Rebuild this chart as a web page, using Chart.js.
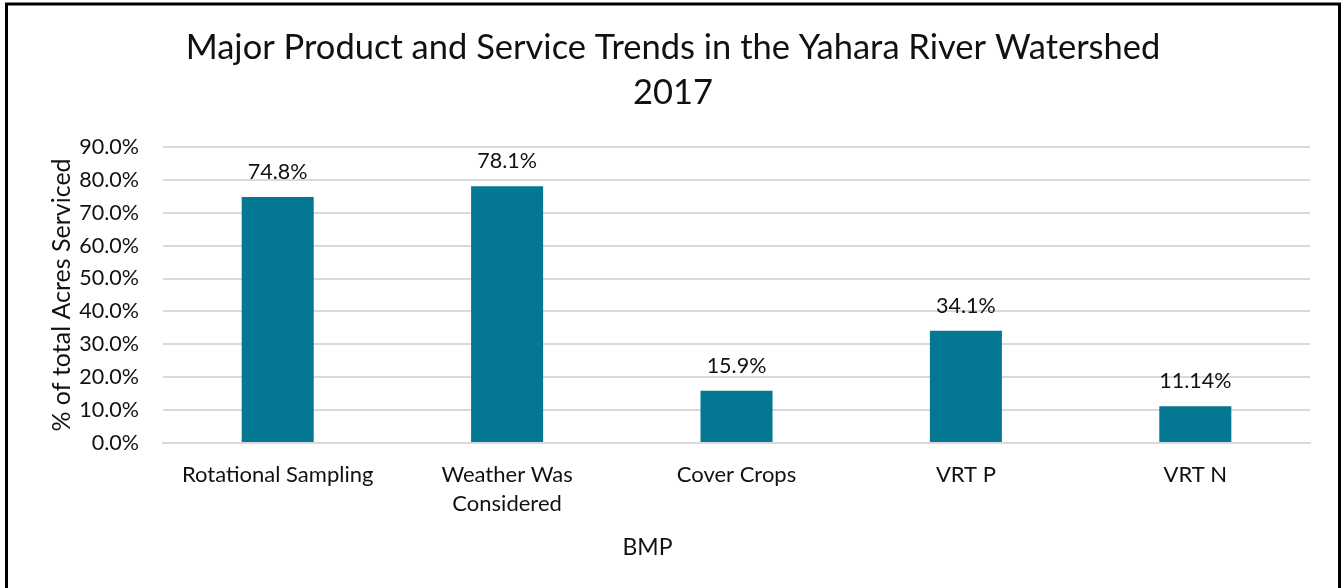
<!DOCTYPE html>
<html>
<head>
<meta charset="utf-8">
<script src="https://cdn.jsdelivr.net/npm/chart.js@4/dist/chart.umd.min.js"></script>
<style>
  html, body { margin: 0; padding: 0; background: #fff; }
  #wrap { position: relative; width: 1344px; height: 588px; }
  canvas { display: block; }
</style>
</head>
<body>
<div id="wrap"><canvas id="chart" width="1344" height="588"></canvas></div>
<script>
// Share of total acres serviced, by BMP
const categories = ["Rotational Sampling", ["Weather Was", "Considered"], "Cover Crops", "VRT P", "VRT N"];
const shareValues = [74.8, 78.1, 15.9, 34.1, 11.14];
const yTicks = [0, 10, 20, 30, 40, 50, 60, 70, 80, 90];
const xAxisTitle = "BMP";

const FONT = "Lato, 'Open Sans', sans-serif";
const INK = "#111111";

// Value labels above each bar
const valueLabels = {
  id: "valueLabels",
  afterDatasetsDraw(chart) {
    const ctx = chart.ctx;
    const meta = chart.getDatasetMeta(0);
    ctx.save();
    ctx.font = "21.5px " + FONT;
    ctx.fillStyle = INK;
    ctx.textAlign = "center";
    ctx.textBaseline = "middle";
    meta.data.forEach((bar, i) => {
      ctx.fillText(String(shareValues[i]) + "%", bar.x, bar.y - 25);
    });
    ctx.restore();
  }
};

// Category axis title, set slightly left of the plot centre
const bottomTitle = {
  id: "bottomTitle",
  afterDraw(chart) {
    const ctx = chart.ctx;
    ctx.save();
    ctx.font = "23px " + FONT;
    ctx.fillStyle = INK;
    ctx.textAlign = "center";
    ctx.textBaseline = "middle";
    ctx.fillText(xAxisTitle, chart.width / 2 - 24.5, chart.height - 40);
    ctx.restore();
  }
};

// Outer frame around the chart
const frame = {
  id: "frame",
  afterDraw(chart) {
    const ctx = chart.ctx;
    ctx.save();
    ctx.strokeStyle = "#000";
    ctx.lineWidth = 3;
    ctx.beginPath();
    ctx.moveTo(6.5, 600);
    ctx.lineTo(6.5, 4);
    ctx.lineTo(1339.5, 4);
    ctx.lineTo(1339.5, 600);
    ctx.stroke();
    ctx.restore();
  }
};

new Chart(document.getElementById("chart"), {
  type: "bar",
  data: {
    labels: categories,
    datasets: [{
      data: shareValues,
      backgroundColor: "#047893",
      borderWidth: 0,
      categoryPercentage: 1,
      barPercentage: 0.314
    }]
  },
  options: {
    responsive: false,
    animation: false,
    layout: { padding: { left: 36, right: 34, top: 0, bottom: 0 } },
    plugins: {
      legend: { display: false },
      tooltip: { enabled: false },
      title: {
        display: true,
        text: ["Major Product and Service Trends in the Yahara River Watershed", "2017"],
        font: { family: FONT, size: 34.5, weight: "normal", lineHeight: 1.3 },
        color: INK,
        padding: { top: 25.6, bottom: 31.7 }
      }
    },
    scales: {
      x: {
        afterFit(scale) { scale.height = 145; },
        grid: { display: false },
        border: { display: true, color: "#d9d9d9", width: 2 },
        ticks: {
          color: INK,
          font: { family: FONT, size: 22, lineHeight: 1.33 },
          padding: 9,
          maxRotation: 0,
          autoSkip: false
        },
        title: { display: false }
      },
      y: {
        min: 0,
        max: 90,
        afterBuildTicks(scale) { scale.ticks = yTicks.map(v => ({ value: v })); },
        afterFit(scale) { scale.width = 127; },
        grid: { color: "#d9d9d9", lineWidth: 2, drawTicks: false },
        border: { display: false },
        ticks: {
          color: INK,
          font: { family: FONT, size: 21.5 },
          padding: 24,
          callback: v => Number(v).toFixed(1) + "%"
        },
        title: {
          display: true,
          text: "% of total Acres Serviced",
          color: INK,
          font: { family: FONT, size: 25, lineHeight: 1.2 },
          padding: { top: 11, bottom: 0 }
        }
      }
    }
  },
  plugins: [valueLabels, bottomTitle, frame]
});
</script>
</body>
</html>
